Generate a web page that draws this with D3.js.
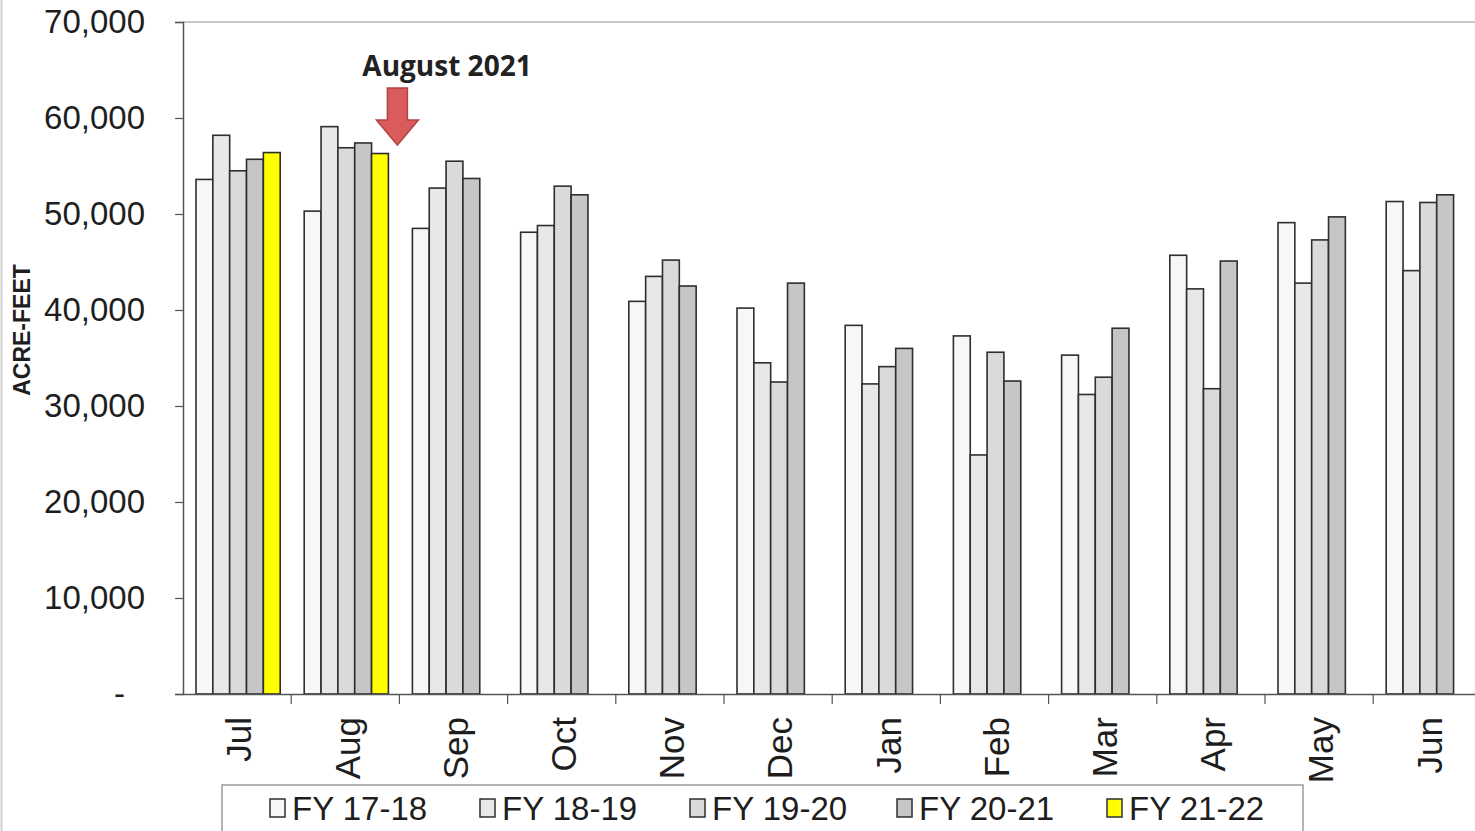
<!DOCTYPE html>
<html>
<head>
<meta charset="utf-8">
<script src="https://cdn.jsdelivr.net/npm/d3@7"></script>
<style>
  body { margin: 0; background: #fff; }
  svg { display: block; font-family: "Liberation Sans", Arial, sans-serif; }
</style>
</head>
<body>
<svg id="chart" width="1475" height="831"></svg>
<script>
// Monthly deliveries, acre-feet
const months = ['Jul', 'Aug', 'Sep', 'Oct', 'Nov', 'Dec', 'Jan', 'Feb', 'Mar', 'Apr', 'May', 'Jun'];
const seriesNames = ['FY 17-18', 'FY 18-19', 'FY 19-20', 'FY 20-21', 'FY 21-22'];
const fy1718 = [53600, 50300, 48500, 48100, 40900, 40200, 38400, 37300, 35300, 45700, 49100, 51300];
const fy1819 = [58200, 59100, 52700, 48800, 43500, 34500, 32300, 24900, 31200, 42200, 42800, 44100];
const fy1920 = [54500, 56900, 55500, 52900, 45200, 32500, 34100, 35600, 33000, 31800, 47300, 51200];
const fy2021 = [55700, 57400, 53700, 52000, 42500, 42800, 36000, 32600, 38100, 45100, 49700, 52000];
const fy2122 = [56400, 56300, null, null, null, null, null, null, null, null, null, null];
const yTicks = [0, 10000, 20000, 30000, 40000, 50000, 60000, 70000];
const fills = ['#f7f7f7', '#e8e8e8', '#dadada', '#c6c6c6', '#ffff00'];

const allSeries = [fy1718, fy1819, fy1920, fy2021, fy2122];

const svg = d3.select('#chart');
const margin = { top: 22, left: 183 };
const plotH = 672;
const bandW = 108.2;

const x = d3.scaleBand()
  .domain(months)
  .range([margin.left, margin.left + bandW * months.length])
  .paddingInner(0)
  .paddingOuter(0);

const xInner = d3.scaleBand()
  .domain(seriesNames)
  .range([13, x.bandwidth() - 11]);

const y = d3.scaleLinear()
  .domain([0, 70000])
  .range([margin.top + plotH, margin.top]);

// top frame line
svg.append('line')
  .attr('x1', margin.left).attr('x2', 1475)
  .attr('y1', y(70000)).attr('y2', y(70000))
  .attr('stroke', '#b5b5b5').attr('stroke-width', 1.5);

// left scan edge
svg.append('line')
  .attr('x1', 1.5).attr('x2', 1.5).attr('y1', 0).attr('y2', 831)
  .attr('stroke', '#d0d0d0').attr('stroke-width', 2);

// bars
months.forEach((m, i) => {
  const g = svg.append('g').attr('transform', `translate(${x(m)},0)`);
  allSeries.forEach((s, k) => {
    if (s[i] == null) return;
    g.append('rect')
      .attr('x', xInner(seriesNames[k]))
      .attr('width', xInner.bandwidth())
      .attr('y', y(s[i]))
      .attr('height', y(0) - y(s[i]))
      .attr('fill', fills[k])
      .attr('stroke', '#2e2e2e')
      .attr('stroke-width', 1.6);
  });
});

// y axis
const yAxis = svg.append('g')
  .attr('transform', `translate(${margin.left},0)`)
  .call(d3.axisLeft(y).tickValues(yTicks).tickSize(8).tickPadding(30)
    .tickFormat(d => d === 0 ? '-' : d3.format(',')(d)));
yAxis.select('.domain').attr('stroke', '#555').attr('stroke-width', 1.5);
yAxis.selectAll('.tick line').attr('stroke', '#555').attr('stroke-width', 1.2);
yAxis.selectAll('.tick text')
  .attr('font-size', 33)
  .attr('fill', '#1e1e1e')
  .attr('font-family', '"Liberation Sans", Arial, sans-serif');
yAxis.selectAll('.tick').filter(d => d === 0).select('text').attr('dx', -20);

// x axis
const xAxis = svg.append('g')
  .attr('transform', `translate(0,${y(0)})`)
  .call(d3.axisBottom(x).tickSize(0).tickFormat(''));
xAxis.select('.domain').attr('stroke', '#555').attr('stroke-width', 1.5);
xAxis.selectAll('.tick').remove();

// category separators
svg.append('g').selectAll('line')
  .data(months.slice(1))
  .join('line')
  .attr('x1', d => x(d)).attr('x2', d => x(d))
  .attr('y1', y(0)).attr('y2', y(0) + 10)
  .attr('stroke', '#555').attr('stroke-width', 1.2);

// month labels
svg.append('g').selectAll('text')
  .data(months)
  .join('text')
  .attr('transform', d => `translate(${x(d) + x.bandwidth() / 2 + 2},${y(0) + 23}) rotate(-90)`)
  .attr('text-anchor', 'end')
  .attr('dy', '0.35em')
  .attr('font-size', 35)
  .attr('fill', '#1e1e1e')
  .text(d => d);

// y axis title
svg.append('text')
  .attr('transform', `translate(22,330) rotate(-90)`)
  .attr('text-anchor', 'middle')
  .attr('dy', '0.35em')
  .attr('font-size', 23)
  .attr('font-weight', 'bold')
  .attr('fill', '#1e1e1e')
  .text('ACRE-FEET');

// annotation
const ax = x('Aug') + x.bandwidth() - 2;
svg.append('path')
  .attr('d', `M${ax - 10},${88} L${ax + 10},${88} L${ax + 10},${120} L${ax + 21},${120} L${ax},${145} L${ax - 21},${120} L${ax - 10},${120} Z`)
  .attr('fill', '#d95b5b')
  .attr('stroke', '#b24444')
  .attr('stroke-width', 1.5);
svg.append('text')
  .attr('x', 447).attr('y', 66)
  .attr('text-anchor', 'middle')
  .attr('dy', '0.35em')
  .attr('font-size', 28)
  .attr('font-weight', 'bold')
  .attr('font-family', '"Open Sans", "Liberation Sans", sans-serif')
  .attr('fill', '#222')
  .text('August 2021');

// legend
svg.append('rect')
  .attr('x', 222).attr('y', 785).attr('width', 1081).attr('height', 60)
  .attr('fill', '#fff').attr('stroke', '#9a9a9a').attr('stroke-width', 1.5);
const legendX = [270, 480, 690, 897, 1107];
const lg = svg.append('g').selectAll('g')
  .data(seriesNames)
  .join('g')
  .attr('transform', (d, i) => `translate(${legendX[i]},808)`);
lg.append('rect')
  .attr('x', 0).attr('y', -9).attr('width', 15).attr('height', 18)
  .attr('fill', (d, i) => fills[i])
  .attr('stroke', '#2e2e2e').attr('stroke-width', 1.5);
lg.append('text')
  .attr('x', 22).attr('dy', '0.36em')
  .attr('font-size', 33)
  .attr('fill', '#1e1e1e')
  .text(d => d);
</script>
</body>
</html>
